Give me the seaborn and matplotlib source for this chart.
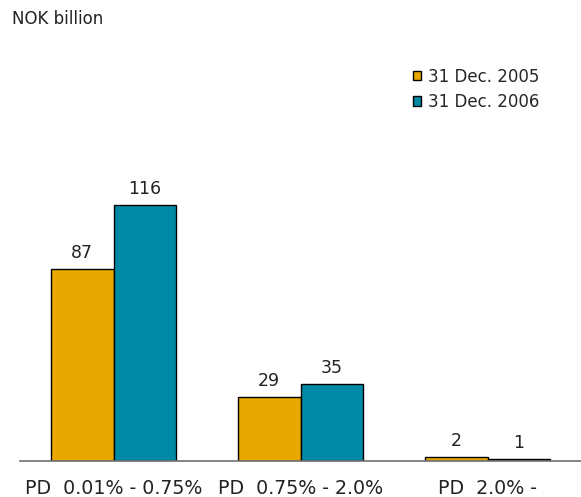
import numpy as np
import pandas as pd

import matplotlib
matplotlib.use('Agg')

import matplotlib.pyplot as plt
import seaborn as sns


# =========================================================
# DATA
# =========================================================

categories = [
    "PD  0.01% - 0.75%",
    "PD  0.75% - 2.0%",
    "PD  2.0% -",
]

series_names = [
    "31 Dec. 2005",
    "31 Dec. 2006",
]

values_2005 = [87, 29, 2]
values_2006 = [116, 35, 1]

colors = ["#E8A800", "#0089A5"]


# =========================================================
# TABLE
# =========================================================

df = pd.DataFrame({
    "category": categories * 2,
    "series": [series_names[0]] * 3 + [series_names[1]] * 3,
    "value": values_2005 + values_2006,
})


# =========================================================
# FIGURE
# =========================================================

sns.set_style("white")
plt.rcParams['font.family'] = ['DejaVu Sans']

fig = plt.figure(figsize=(5.81, 4.97), dpi=100)

ax = fig.add_axes([20 / 581, 36 / 497, 561 / 581, 341 / 497])

sns.barplot(
    data=df,
    x="category",
    y="value",
    hue="series",
    palette=colors,
    saturation=1,
    width=0.67,
    gap=0,
    edgecolor="black",
    linewidth=1,
    ax=ax
)

ax.set_ylim(0, 154.5)
ax.set_xlim(-0.5, 2.5)

for c in ax.containers:
    ax.bar_label(c, padding=5, fontsize=12.5, color="#222222")

ax.set_xlabel("")
ax.set_ylabel("")
ax.set_yticks([])
ax.tick_params(axis='x', length=0, pad=13, labelsize=13.7, labelcolor="#222222")

for s in ["left", "right", "top"]:
    ax.spines[s].set_visible(False)

ax.spines["bottom"].set_color("#707070")
ax.spines["bottom"].set_linewidth(1.2)

leg = ax.legend(
    loc="upper left",
    bbox_to_anchor=(386 / 561, (497 - 36 - 61) / 341),
    frameon=False,
    fontsize=12,
    handlelength=0.5,
    handleheight=0.5,
    handletextpad=0.45,
    labelspacing=0.45,
    borderaxespad=0
)

fig.text(
    12 / 581,
    1 - 19 / 497,
    "NOK billion",
    fontsize=12,
    color="#222222",
    va="center"
)

plt.savefig("out.png", dpi=100)

plt.close()
